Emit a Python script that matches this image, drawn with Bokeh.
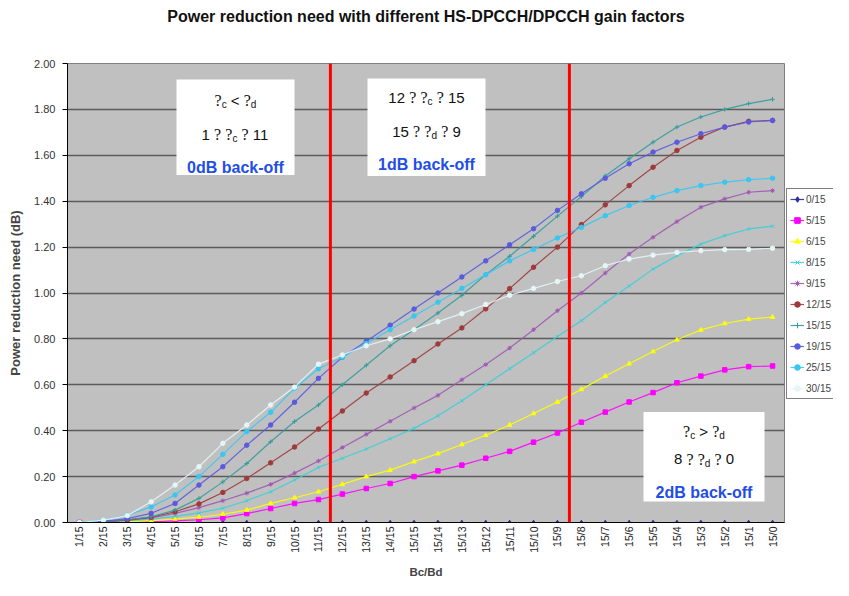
import math
from bokeh.plotting import figure
from bokeh.layouts import row
from bokeh.models import (FixedTicker, PrintfTickFormatter, Span, BoxAnnotation,
                          Label, Legend, LegendItem, Title, ColumnDataSource)
from bokeh.embed import file_html
from bokeh.resources import INLINE

# ---------------- data ----------------
categories = ["1/15", "2/15", "3/15", "4/15", "5/15", "6/15", "7/15", "8/15", "9/15", "10/15",
              "11/15", "12/15", "13/15", "14/15", "15/15", "15/14", "15/13", "15/12", "15/11",
              "15/10", "15/9", "15/8", "15/7", "15/6", "15/5", "15/4", "15/3", "15/2", "15/1", "15/0"]

series_names = ["0/15", "5/15", "6/15", "8/15", "9/15", "12/15", "15/15", "19/15", "25/15", "30/15"]

s_0_15 = [0.00, 0.00, 0.00, 0.00, 0.00, 0.00, 0.00, 0.00, 0.00, 0.00,
          0.00, 0.00, 0.00, 0.00, 0.00, 0.00, 0.00, 0.00, 0.00, 0.00,
          0.00, 0.00, 0.00, 0.00, 0.00, 0.00, 0.00, 0.00, 0.00, 0.00]
s_5_15 = [0.000, 0.000, 0.000, 0.003, 0.007, 0.012, 0.020, 0.039, 0.061, 0.083,
          0.100, 0.124, 0.148, 0.170, 0.200, 0.225, 0.250, 0.280, 0.310, 0.350,
          0.390, 0.437, 0.481, 0.525, 0.566, 0.609, 0.638, 0.665, 0.679, 0.682]
s_6_15 = [0.000, 0.000, 0.003, 0.008, 0.015, 0.023, 0.036, 0.054, 0.083, 0.108,
          0.134, 0.166, 0.200, 0.228, 0.265, 0.300, 0.340, 0.380, 0.425, 0.475,
          0.525, 0.580, 0.638, 0.692, 0.745, 0.796, 0.839, 0.867, 0.886, 0.895]
s_8_15 = [0.000, 0.003, 0.008, 0.015, 0.027, 0.042, 0.062, 0.095, 0.134, 0.185,
          0.240, 0.280, 0.320, 0.365, 0.410, 0.465, 0.530, 0.600, 0.670, 0.740,
          0.810, 0.879, 0.959, 1.031, 1.104, 1.162, 1.213, 1.250, 1.279, 1.291]
s_9_15 = [0.000, 0.000, 0.010, 0.020, 0.040, 0.065, 0.095, 0.128, 0.166, 0.215,
          0.268, 0.327, 0.384, 0.441, 0.499, 0.554, 0.622, 0.688, 0.760, 0.840,
          0.923, 1.000, 1.087, 1.170, 1.243, 1.311, 1.374, 1.410, 1.439, 1.446]
s_12_15 = [0.000, 0.005, 0.010, 0.023, 0.047, 0.081, 0.131, 0.192, 0.260, 0.329,
           0.407, 0.486, 0.564, 0.634, 0.705, 0.778, 0.848, 0.931, 1.019, 1.112,
           1.200, 1.298, 1.384, 1.468, 1.548, 1.621, 1.679, 1.723, 1.748, 1.752]
s_15_15 = [0.000, 0.005, 0.012, 0.025, 0.054, 0.105, 0.177, 0.257, 0.352, 0.440,
           0.512, 0.600, 0.685, 0.770, 0.840, 0.913, 0.990, 1.080, 1.160, 1.247,
           1.335, 1.420, 1.510, 1.585, 1.657, 1.723, 1.767, 1.800, 1.825, 1.844]
s_19_15 = [0.000, 0.005, 0.017, 0.040, 0.083, 0.163, 0.243, 0.337, 0.425, 0.524,
           0.628, 0.720, 0.790, 0.860, 0.930, 1.000, 1.070, 1.140, 1.210, 1.280,
           1.360, 1.432, 1.500, 1.563, 1.614, 1.657, 1.694, 1.723, 1.745, 1.752]
s_25_15 = [0.000, 0.010, 0.032, 0.068, 0.120, 0.200, 0.297, 0.396, 0.480, 0.585,
           0.670, 0.720, 0.780, 0.840, 0.900, 0.960, 1.020, 1.080, 1.140, 1.190,
           1.240, 1.286, 1.337, 1.381, 1.417, 1.446, 1.468, 1.483, 1.494, 1.500]
s_30_15 = [0.000, 0.010, 0.030, 0.090, 0.163, 0.243, 0.345, 0.425, 0.512, 0.590,
           0.690, 0.730, 0.770, 0.800, 0.840, 0.875, 0.910, 0.950, 0.990, 1.020,
           1.050, 1.075, 1.119, 1.148, 1.165, 1.177, 1.184, 1.189, 1.190, 1.195]

series_values = [s_0_15, s_5_15, s_6_15, s_8_15, s_9_15, s_12_15, s_15_15, s_19_15, s_25_15, s_30_15]

y_ticks = [0.0, 0.2, 0.4, 0.6, 0.8, 1.0, 1.2, 1.4, 1.6, 1.8, 2.0]

# last category of the 0dB and 1dB back-off regions
region_last = ["11/15", "15/9"]

title_text = "Power reduction need with different HS-DPCCH/DPCCH gain factors"
x_label = "Bc/Bd"
y_label = "Power reduction need (dB)"

# ---------------- style ----------------
colors = ["#2a2a9c", "#ff00ff", "#ffff00", "#36d0d8", "#a058b4",
          "#a03a3a", "#329c9c", "#5a5ae0", "#38c6f2", "#e4f6f6"]
markers = ["diamond", "square", "triangle", "x", "asterisk",
           "circle", "cross", "circle", "circle", "circle"]

FONT = "Liberation Sans"
SERIF = "Liberation Serif"

# layout (figure pixels)
BORDER_L, FRAME_W, BORDER_T, BORDER_B = 67, 717, 62, 57
FIG_H = 580
MAIN_W = BORDER_L + FRAME_W + 1
LEG_W = 833 - MAIN_W

p = figure(x_range=categories, y_range=(0, 2.0), width=MAIN_W, height=FIG_H,
           output_backend="svg", toolbar_location=None, title=None,
           min_border_left=BORDER_L, min_border_right=1,
           min_border_top=BORDER_T, min_border_bottom=BORDER_B)

p.background_fill_color = "#c0c0c0"
p.border_fill_color = "white"
p.outline_line_color = "#808080"

# titles (spacer first so the real title sits higher)
p.add_layout(Title(text=" ", text_font_size="20px"), "above")
p.add_layout(Title(text=title_text, text_font=FONT, text_font_style="bold",
                   text_font_size="16px", align="center", text_color="#111111"), "above")

# axes
p.xgrid.grid_line_color = None
p.ygrid.grid_line_color = "#5c5c5c"
p.ygrid.grid_line_width = 1.5
p.yaxis.ticker = FixedTicker(ticks=y_ticks)
p.yaxis.formatter = PrintfTickFormatter(format="%.2f")
p.yaxis.minor_tick_line_color = None
p.yaxis.major_tick_out = 5
p.yaxis.major_tick_in = 0
p.yaxis.major_label_standoff = 7
p.yaxis.major_label_text_font = FONT
p.yaxis.major_label_text_font_size = "11px"
p.yaxis.major_label_text_color = "#333333"
p.yaxis.axis_label = y_label
p.yaxis.axis_label_text_font = FONT
p.yaxis.axis_label_text_font_style = "bold"
p.yaxis.axis_label_text_font_size = "13px"
p.yaxis.axis_label_standoff = 8
p.yaxis.axis_line_color = "black"

p.xaxis.major_label_orientation = math.pi / 2
p.xaxis.major_tick_out = 0
p.xaxis.major_tick_in = 0
p.xaxis.major_label_standoff = 4
p.xaxis.major_label_text_font = FONT
p.xaxis.major_label_text_font_size = "10.5px"
p.xaxis.major_label_text_color = "#222222"
p.xaxis.axis_label = x_label
p.xaxis.axis_label_text_font = FONT
p.xaxis.axis_label_text_font_style = "bold"
p.xaxis.axis_label_text_font_size = "11.5px"
p.xaxis.axis_label_standoff = 10
p.xaxis.axis_line_color = "black"

# series
for name, vals, col, mk in zip(series_names, series_values, colors, markers):
    src = ColumnDataSource(data=dict(x=categories, y=vals))
    p.line("x", "y", source=src, line_color=col, line_width=1.2, line_alpha=0.9)
    p.scatter("x", "y", source=src, marker=mk, size=4.5, line_color=col,
              fill_color=col, line_width=1)

# region separators
for c in region_last:
    p.add_layout(Span(location=categories.index(c) + 1, dimension="height",
                      line_color="#ff0000", line_width=3))

# ---------------- text boxes ----------------
# positions measured in reference pixels: plot area spans x 68..785, y 66..523
REF_L, REF_R, REF_T, REF_B = 68, 785, 66, 523
PX_X = (REF_R - REF_L) / len(categories)   # pixels per category
PX_Y = (REF_B - REF_T) / 2.0               # pixels per y unit

def dx(px):
    return (px - REF_L) / PX_X

def dy(py):
    return (REF_B - py) / PX_Y

ARIAL_W = {" ": .278, "<": .584, ">": .584, "c": .5, "d": .556}
SIZES = {"n": 15, "q": 16, "s": 10}

def seg_w(kind, t):
    if kind == "sp":
        return 0.278 * SIZES["n"]
    if kind == "q":
        return 0.444 * SIZES["q"] * len(t)
    return sum(ARIAL_W.get(ch, .556) for ch in t) * SIZES[kind]

def draw_line(cx, base, segs):
    total = sum(seg_w(k, t) for k, t in segs)
    off = -total / 2
    for k, t in segs:
        if k != "sp":
            p.add_layout(Label(
                x=cx, y=base, x_offset=off, y_offset=(-4 if k == "s" else 0),
                text=t, text_align="left", text_baseline="alphabetic",
                text_font=(SERIF if k == "q" else FONT),
                text_font_size=f"{SIZES[k]}px", text_color="#111111"))
        off += seg_w(k, t)

boxes = [
    dict(l=177, r=295, t=82, b=177,
         lines=[[("q", "?"), ("s", "c"), ("sp", ""), ("n", "<"), ("sp", ""), ("q", "?"), ("s", "d")],
                [("n", "1"), ("sp", ""), ("q", "?"), ("sp", ""), ("q", "?"), ("s", "c"), ("sp", ""),
                 ("q", "?"), ("sp", ""), ("n", "11")]],
         base=[103, 137], blue="0dB back-off", blue_base=170),
    dict(l=368, r=486, t=81, b=178,
         lines=[[("n", "12"), ("sp", ""), ("q", "?"), ("sp", ""), ("q", "?"), ("s", "c"), ("sp", ""),
                 ("q", "?"), ("sp", ""), ("n", "15")],
                [("n", "15"), ("sp", ""), ("q", "?"), ("sp", ""), ("q", "?"), ("s", "d"), ("sp", ""),
                 ("q", "?"), ("sp", ""), ("n", "9")]],
         base=[100, 134], blue="1dB back-off", blue_base=167),
    dict(l=644, r=765, t=413, b=502,
         lines=[[("q", "?"), ("s", "c"), ("sp", ""), ("n", ">"), ("sp", ""), ("q", "?"), ("s", "d")],
                [("n", "8"), ("sp", ""), ("q", "?"), ("sp", ""), ("q", "?"), ("s", "d"), ("sp", ""),
                 ("q", "?"), ("sp", ""), ("n", "0")]],
         base=[432, 460], blue="2dB back-off", blue_base=493),
]

for bx in boxes:
    p.add_layout(BoxAnnotation(left=dx(bx["l"]), right=dx(bx["r"]),
                               top=dy(bx["t"]), bottom=dy(bx["b"]),
                               fill_color="white", fill_alpha=1.0, line_color=None))
    cx = dx((bx["l"] + bx["r"]) / 2)
    for segs, b in zip(bx["lines"], bx["base"]):
        draw_line(cx, dy(b), segs)
    p.add_layout(Label(x=cx, y=dy(bx["blue_base"]), text=bx["blue"], text_align="center",
                       text_baseline="alphabetic", text_font=FONT, text_font_style="bold",
                       text_font_size="16px", text_color="#1f4ee6"))

# ---------------- legend (separate narrow panel to the right) ----------------
lg = figure(width=LEG_W, height=FIG_H, x_range=(0, 1), y_range=(0, 1),
            output_backend="svg", toolbar_location=None, title=None,
            x_axis_type=None, y_axis_type=None, min_border=0)
lg.outline_line_color = None
lg.background_fill_color = "white"
lg.border_fill_color = "white"

items = []
for name, col, mk in zip(series_names, colors, markers):
    src = ColumnDataSource(data=dict(x=[-5.0], y=[-5.0]))
    ln = lg.line("x", "y", source=src, line_color=col, line_width=1.2, line_alpha=0.9)
    sc = lg.scatter("x", "y", source=src, marker=mk, size=4.5, line_color=col,
                    fill_color=col, line_width=1)
    items.append(LegendItem(label=name, renderers=[ln, sc]))

LEG_Y = 123   # screen px, legend panel placement
legend = Legend(items=items, location=(1, LEG_Y),
                margin=0, padding=3, spacing=7, glyph_width=14, glyph_height=14,
                label_height=14, label_standoff=2, label_text_font=FONT,
                label_text_font_size="10px", border_line_color="black",
                border_line_width=1, background_fill_color="white",
                background_fill_alpha=1.0)
lg.add_layout(legend, "center")

layout = row(p, lg, spacing=0)
open("out.html", "w").write(file_html(layout, INLINE))
